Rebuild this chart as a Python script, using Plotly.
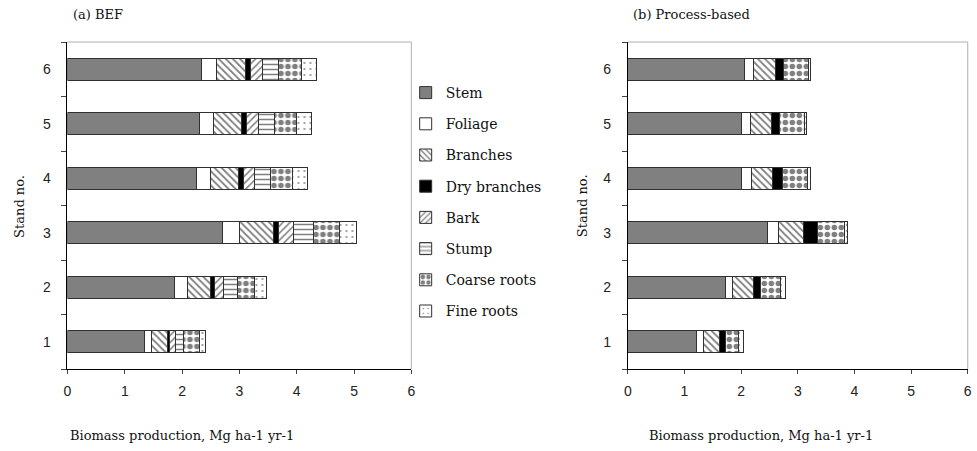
import plotly.graph_objects as go

stands = ["1", "2", "3", "4", "5", "6"]
components = ["Stem", "Foliage", "Branches", "Dry branches", "Bark", "Stump", "Coarse roots", "Fine roots"]

# (a) BEF, Mg ha-1 yr-1 per stand 1..6
bef_stem = [1.34, 1.87, 2.71, 2.25, 2.30, 2.34]
bef_foliage = [0.12, 0.23, 0.30, 0.25, 0.25, 0.26]
bef_branches = [0.29, 0.40, 0.59, 0.49, 0.48, 0.50]
bef_dry = [0.03, 0.06, 0.08, 0.08, 0.10, 0.10]
bef_bark = [0.10, 0.17, 0.27, 0.19, 0.21, 0.21]
bef_stump = [0.14, 0.23, 0.34, 0.29, 0.27, 0.27]
bef_coarse = [0.28, 0.30, 0.45, 0.38, 0.39, 0.40]
bef_fine = [0.10, 0.21, 0.31, 0.25, 0.26, 0.26]

# (b) Process-based
pb_stem = [1.21, 1.72, 2.46, 2.00, 2.00, 2.06]
pb_foliage = [0.13, 0.12, 0.20, 0.18, 0.16, 0.16]
pb_branches = [0.27, 0.37, 0.44, 0.38, 0.38, 0.39]
pb_dry = [0.11, 0.13, 0.25, 0.17, 0.13, 0.14]
pb_coarse = [0.24, 0.36, 0.48, 0.44, 0.45, 0.44]
pb_fine = [0.09, 0.08, 0.05, 0.05, 0.04, 0.04]

x_ticks = [0, 1, 2, 3, 4, 5, 6]

styles = {
    "Stem": dict(color="#808080"),
    "Foliage": dict(color="white"),
    "Branches": dict(color="white", pattern=dict(shape="\\", fgcolor="black", bgcolor="white", size=5, solidity=0.35)),
    "Dry branches": dict(color="black"),
    "Bark": dict(color="white", pattern=dict(shape="/", fgcolor="black", bgcolor="white", size=5, solidity=0.3)),
    "Stump": dict(color="white", pattern=dict(shape="-", fgcolor="black", bgcolor="white", size=5, solidity=0.3)),
    "Coarse roots": dict(color="white", pattern=dict(shape=".", fgcolor="black", bgcolor="white", size=7, solidity=0.5)),
    "Fine roots": dict(color="white", pattern=dict(shape=".", fgcolor="black", bgcolor="white", size=6, solidity=0.08)),
}

bef = dict(zip(components, [bef_stem, bef_foliage, bef_branches, bef_dry, bef_bark, bef_stump, bef_coarse, bef_fine]))
pb = {"Stem": pb_stem, "Foliage": pb_foliage, "Branches": pb_branches, "Dry branches": pb_dry,
      "Coarse roots": pb_coarse, "Fine roots": pb_fine}

fig = go.Figure()
line = dict(color="#303030", width=1)
for c in components:
    st = styles[c]
    marker = dict(color=st["color"], line=line)
    if "pattern" in st:
        marker["pattern"] = st["pattern"]
    fig.add_trace(go.Bar(x=bef[c], y=stands, orientation="h", name=c, marker=marker,
                         xaxis="x", yaxis="y", legendgroup=c, width=0.4))
for c in components:
    if c not in pb:
        continue
    st = styles[c]
    marker = dict(color=st["color"], line=line)
    if "pattern" in st:
        marker["pattern"] = st["pattern"]
    fig.add_trace(go.Bar(x=pb[c], y=stands, orientation="h", name=c, marker=marker,
                         xaxis="x2", yaxis="y2", legendgroup=c, showlegend=False, width=0.4))

tickfont = dict(family="Liberation Sans", size=14, color="#222")
serif = dict(family="DejaVu Serif", size=13, color="#111")
legfont = dict(family="DejaVu Serif", size=14, color="#111")
ydom = [1 - 369 / 451, 1 - 42 / 451]
xcommon = dict(range=[0, 6], tickvals=x_ticks, ticks="outside", ticklen=4, showgrid=False,
               showline=True, linecolor="black", linewidth=1, zeroline=False, tickfont=tickfont,
               ticklabelstandoff=5)
ycommon = dict(type="category", categoryorder="array", categoryarray=stands, range=[-0.5, 5.5],
               ticks="outside", ticklen=5, tickson="boundaries", showgrid=False, showline=True,
               linecolor="black", linewidth=1, tickfont=tickfont, ticklabelstandoff=13)

fig.update_layout(
    width=977, height=451, margin=dict(l=0, r=0, t=0, b=0),
    paper_bgcolor="white", plot_bgcolor="white", barmode="stack",
    xaxis=dict(domain=[64 / 977, 410.7 / 977], anchor="y", **xcommon),
    xaxis2=dict(domain=[629 / 977, 971.7 / 977], anchor="y2", **xcommon),
    yaxis=dict(domain=ydom, anchor="x", **ycommon),
    yaxis2=dict(domain=ydom, anchor="x2", **ycommon),
    showlegend=True,
    legend=dict(x=405 / 977, y=1 - 77 / 451, xanchor="left", yanchor="top", traceorder="grouped",
                tracegroupgap=10, font=legfont, bgcolor="rgba(0,0,0,0)"),
)

# light gray frame (top and right) of each plot area
for x0, x1 in [(64 / 977, 410.7 / 977), (629 / 977, 971.7 / 977)]:
    fig.add_shape(type="line", xref="paper", yref="paper", x0=x0, x1=x1, y0=ydom[1], y1=ydom[1],
                  line=dict(color="#b0b0b0", width=1))
    fig.add_shape(type="line", xref="paper", yref="paper", x0=x1, x1=x1, y0=ydom[0], y1=ydom[1],
                  line=dict(color="#b0b0b0", width=1))

ann = [
    dict(text="(a) BEF", x=68 / 977, y=1 - 15 / 451),
    dict(text="(b) Process-based", x=632 / 977, y=1 - 15 / 451),
]
for a in ann:
    fig.add_annotation(text=a["text"], x=a["x"], y=a["y"], xref="paper", yref="paper",
                       xanchor="left", yanchor="middle", showarrow=False, font=serif)
for cx in [179, 763]:
    fig.add_annotation(text="Biomass production, Mg ha-1 yr-1", x=cx / 977, y=1 - 435 / 451,
                       xref="paper", yref="paper", xanchor="center", yanchor="middle",
                       showarrow=False, font=serif)
for cx in [15, 583]:
    fig.add_annotation(text="Stand no.", x=cx / 977, y=1 - 206 / 451, xref="paper", yref="paper",
                       xanchor="center", yanchor="middle", textangle=-90, showarrow=False, font=serif)

fig.write_html("out.html")
